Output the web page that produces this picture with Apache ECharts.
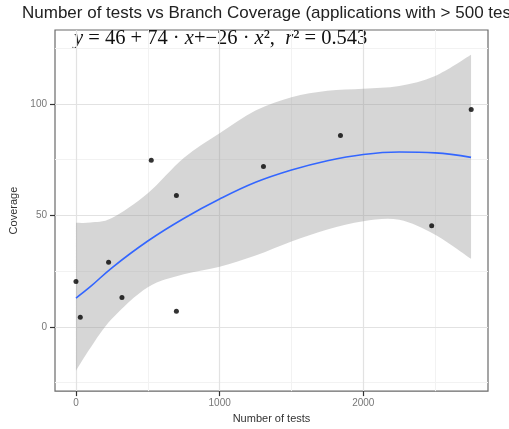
<html>
<head>
    <meta charset="utf-8">
    <script src="https://cdn.jsdelivr.net/npm/echarts@6/dist/echarts.min.js"></script>
</head>
<body style="margin:0; background:#fff">
    <div id="main" style="width:509px; height:429px"></div>
<script type="text/javascript">
    // observed points
    var testCounts = [0, 30, 227, 320, 524, 699, 699, 1305, 1841, 2476, 2751];
    var coverage = [20.3, 4.3, 29, 13.2, 74.7, 58.9, 7.0, 71.9, 85.8, 45.3, 97.5];

    // fitted curve and confidence band
    var fitX = [0, 100, 250, 500, 750, 1000, 1250, 1500, 1750, 2000, 2250, 2500, 2750];
    var fitY = [12.9, 18, 26.5, 38.5, 48.6, 57.3, 64.8, 70.3, 74.5, 77.3, 78.4, 78, 76];
    var bandLow = [-19.7, -9.5, 3.6, 17.8, 23.6, 27, 32, 38.3, 43.7, 47.4, 48, 41.3, 30.5];
    var bandHigh = [46.7, 46.8, 48.8, 59.9, 75.7, 86.8, 97, 103, 105.9, 106.8, 108, 112.5, 122];

    // axis breaks
    var xMajor = [0, 1000, 2000];
    var xMinor = [500, 1500, 2500];
    var yMajor = [0, 50, 100];
    var yMinor = [-25, 25, 75, 125];

    var chart = echarts.init(document.getElementById("main"));

    function pairs(xs, ys) {
        var res = [];
        for (var i = 0; i < xs.length; i++) res.push([xs[i], ys[i]]);
        return res;
    }

    // catmull-rom through pixel points -> svg path segments
    function smoothPath(pts, start) {
        var d = start ? 'M' + pts[0][0] + ',' + pts[0][1] : 'L' + pts[0][0] + ',' + pts[0][1];
        for (var i = 0; i < pts.length - 1; i++) {
            var p0 = pts[Math.max(i - 1, 0)], p1 = pts[i], p2 = pts[i + 1], p3 = pts[Math.min(i + 2, pts.length - 1)];
            var c1x = p1[0] + (p2[0] - p0[0]) / 6, c1y = p1[1] + (p2[1] - p0[1]) / 6;
            var c2x = p2[0] - (p3[0] - p1[0]) / 6, c2y = p2[1] - (p3[1] - p1[1]) / 6;
            d += 'C' + c1x + ',' + c1y + ',' + c2x + ',' + c2y + ',' + p2[0] + ',' + p2[1];
        }
        return d;
    }

    var gridLines = [];
    xMinor.forEach(function (v) { gridLines.push({ xAxis: v, lineStyle: { color: '#f2f2f2', width: 1, type: 'solid' } }); });
    yMinor.forEach(function (v) { gridLines.push({ yAxis: v, lineStyle: { color: '#f2f2f2', width: 1, type: 'solid' } }); });
    xMajor.forEach(function (v) { gridLines.push({ xAxis: v, lineStyle: { color: '#e2e2e2', width: 1.2, type: 'solid' } }); });
    yMajor.forEach(function (v) { gridLines.push({ yAxis: v, lineStyle: { color: '#e2e2e2', width: 1.2, type: 'solid' } }); });

    var option = {
        animation: false,
        backgroundColor: '#fff',
        textStyle: { fontFamily: 'Liberation Sans' },
        grid: {
            left: 55, right: 21, top: 30, bottom: 32,
            show: true, borderColor: '#6a6a6a', borderWidth: 1.2, backgroundColor: '#fff'
        },
        xAxis: {
            type: 'value', min: -146, max: 2868,
            name: 'Number of tests', nameLocation: 'middle', nameGap: 19,
            nameTextStyle: { fontSize: 11, color: '#333' },
            axisLine: { show: false, onZero: false },
            axisTick: { show: true, customValues: xMajor, length: 5, lineStyle: { color: '#333', width: 1.2 } },
            axisLabel: { customValues: xMajor, fontSize: 10, color: '#777', margin: 7,
                formatter: function (v) { return String(v); } },
            splitLine: { show: false }
        },
        yAxis: {
            type: 'value', min: -28.8, max: 133.1,
            name: 'Coverage', nameLocation: 'middle', nameGap: 31, nameRotate: 90,
            nameTextStyle: { fontSize: 11, color: '#333' },
            axisLine: { show: false, onZero: false },
            axisTick: { show: true, customValues: yMajor, length: 5, lineStyle: { color: '#333', width: 1.2 } },
            axisLabel: { customValues: yMajor, fontSize: 10, color: '#777', margin: 8 },
            splitLine: { show: false }
        },
        graphic: [{
            type: 'text', left: 22, top: 5,
            style: {
                text: 'Number of tests vs Branch Coverage (applications with > 500 tests)',
                fontSize: 17, fontFamily: 'Liberation Sans', fill: '#222'
            }
        }, {
            type: 'text', left: 74, top: 28,
            style: {
                text: '{i|y} = 46 + 74 \u00b7 {i|x}+\u221226 \u00b7 {i|x}\u00b2,  {i|r}\u00b2 = 0.543',
                fontSize: 20.5, fontFamily: 'Liberation Serif', fill: '#111',
                rich: { i: { fontStyle: 'italic', fontSize: 20.5, fontFamily: 'Liberation Serif', fill: '#111' } }
            }
        }],
        series: [{
            type: 'scatter', data: [], z: 0, silent: true,
            markLine: { silent: true, z: 0, symbol: 'none', label: { show: false }, data: gridLines, animation: false }
        }, {
            type: 'custom', z: 2, silent: true,
            data: [0],
            renderItem: function (params, api) {
                var up = fitX.map(function (x, i) { return api.coord([x, bandHigh[i]]); });
                var lo = fitX.map(function (x, i) { return api.coord([x, bandLow[i]]); }).reverse();
                return {
                    type: 'path',
                    shape: { pathData: smoothPath(up, true) + smoothPath(lo, false) + 'Z' },
                    style: { fill: 'rgba(153,153,153,0.4)', stroke: null }
                };
            }
        }, {
            type: 'line', z: 3, symbol: 'none', smooth: 0.4,
            lineStyle: { color: '#3366ff', width: 1.6 },
            data: pairs(fitX, fitY)
        }, {
            type: 'scatter', z: 6, symbolSize: 5,
            itemStyle: { color: '#000' },
            data: pairs(testCounts, coverage)
        }]
    };

    chart.setOption(option);
</script>
</body>
</html>
